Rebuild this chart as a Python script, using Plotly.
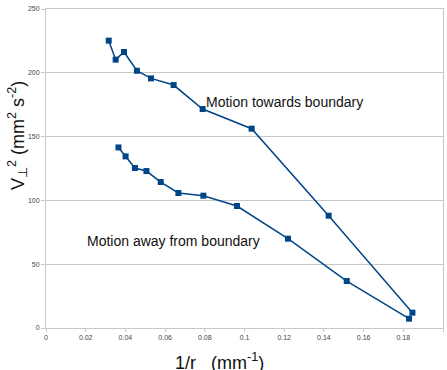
import plotly.graph_objects as go

# Motion towards boundary
x_towards = [0.0316, 0.0351, 0.0393, 0.0458, 0.0529, 0.0643, 0.0789, 0.1036, 0.1424, 0.1846]
y_towards = [225.2, 210.3, 216.3, 201.6, 195.6, 190.4, 171.6, 156.2, 88.0, 12.0]

# Motion away from boundary
x_away = [0.0365, 0.0401, 0.0448, 0.0506, 0.0578, 0.0667, 0.0793, 0.0962, 0.1219, 0.1515, 0.1829]
y_away = [141.5, 134.5, 125.4, 123.0, 114.4, 105.8, 103.7, 95.6, 70.0, 36.8, 7.3]

x_ticks = [0, 0.02, 0.04, 0.06, 0.08, 0.1, 0.12, 0.14, 0.16, 0.18, 0.2]
x_tick_text = ["0", "0.02", "0.04", "0.06", "0.08", "0.1", "0.12", "0.14", "0.16", "0.18", "0.2"]
y_ticks = [0, 50, 100, 150, 200, 250]

label_towards = "Motion towards boundary"
label_away = "Motion away from boundary"
x_title = "1/r   (mm<sup>-1</sup>)"
y_title = "V<sub>⊥</sub><sup>2</sup> (mm<sup>2</sup> s<sup>-2</sup>)"

W, H = 447, 370
L, R, T, B = 46, 4, 9, 42
pw, ph = W - L - R, H - T - B


def px_to_paper(px, py):
    return (px - L) / pw, (H - B - py) / ph


color = "#004586"
fig = go.Figure()
for xs, ys in [(x_towards, y_towards), (x_away, y_away)]:
    fig.add_trace(go.Scatter(
        x=xs, y=ys, mode="lines+markers",
        line=dict(color=color, width=1.5),
        marker=dict(symbol="square", size=6, color=color),
        showlegend=False, hoverinfo="skip"))

txt_font = dict(family="Liberation Sans, Arial", size=14, color="#111111")
fig.add_annotation(x=0.0798, y=177, xref="x", yref="y", text=label_towards,
                   showarrow=False, xanchor="left", yanchor="middle", font=txt_font)
fig.add_annotation(x=0.0197, y=68, xref="x", yref="y", text=label_away,
                   showarrow=False, xanchor="left", yanchor="middle", font=txt_font)

title_font = dict(family="Liberation Sans, Arial", size=18, color="#111111")
yx, yy = px_to_paper(17, 136)
fig.add_annotation(x=yx, y=yy, xref="paper", yref="paper", text=y_title,
                   showarrow=False, textangle=-90, xanchor="center", yanchor="middle",
                   font=title_font)
xx, xy = px_to_paper(219, 361)
fig.add_annotation(x=xx, y=xy, xref="paper", yref="paper", text=x_title,
                   showarrow=False, xanchor="center", yanchor="middle",
                   font=title_font)

fig.update_layout(
    width=W, height=H,
    margin=dict(l=L, r=R, t=T, b=B, autoexpand=False),
    paper_bgcolor="white", plot_bgcolor="white",
    font=dict(family="Liberation Sans, Arial", color="#333333"),
    xaxis=dict(range=[0, 0.2], tickvals=x_ticks, ticktext=x_tick_text,
               showgrid=False, zeroline=False, automargin=False,
               showline=True, linecolor="#c8c8c8", linewidth=1, mirror=True,
               ticks="outside", ticklen=3, tickcolor="#c8c8c8",
               tickfont=dict(size=7, color="#444444")),
    yaxis=dict(range=[0, 250], tickvals=y_ticks, automargin=False,
               showgrid=True, gridcolor="#c8c8c8", gridwidth=1, zeroline=False,
               showline=True, linecolor="#c8c8c8", linewidth=1, mirror=True,
               ticks="outside", ticklen=4, tickcolor="#c8c8c8",
               tickfont=dict(size=7, color="#444444")),
)

fig.write_html("out.html", config={"displayModeBar": False},
               post_script="document.body.style.margin='0';document.body.style.overflow='hidden';")
